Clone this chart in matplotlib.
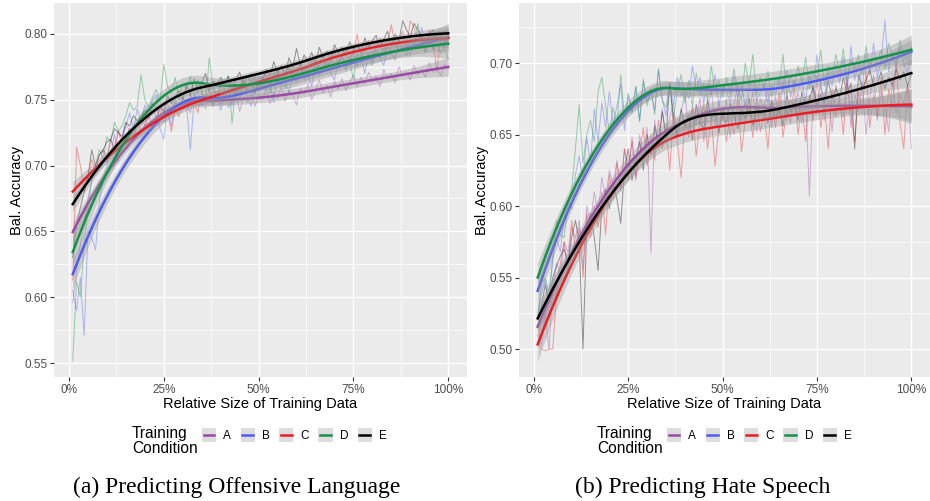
"""Learning curves for five training conditions, ggplot-style, two panels."""

import numpy as np
import matplotlib

matplotlib.use("Agg")
import matplotlib.pyplot as plt
from matplotlib.patches import Rectangle
from matplotlib.lines import Line2D
from matplotlib.legend_handler import HandlerBase
from matplotlib.ticker import FixedLocator, FuncFormatter

# relative size of training data, in percent
train_size = list(range(1, 101))
conditions = ["A", "B", "C", "D", "E"]
colors = ["#9A4AA6", "#4B5BF5", "#EC1C24", "#13924A", "#000000"]

# (a) offensive language, balanced accuracy per condition
off_a = [0.596, 0.620, 0.640, 0.655, 0.675, 0.688, 0.700, 0.698, 0.712, 0.708,
         0.720, 0.714, 0.727, 0.720, 0.732, 0.726, 0.724, 0.732, 0.737, 0.730,
         0.738, 0.744, 0.736, 0.745, 0.741, 0.747, 0.739, 0.750, 0.744, 0.742,
         0.748, 0.740, 0.752, 0.745, 0.749, 0.743, 0.754, 0.746, 0.751, 0.747,
         0.755, 0.744, 0.750, 0.756, 0.741, 0.752, 0.748, 0.757, 0.745, 0.753,
         0.750, 0.758, 0.747, 0.755, 0.751, 0.760, 0.749, 0.757, 0.753, 0.746,
         0.759, 0.754, 0.762, 0.750, 0.757, 0.765, 0.755, 0.761, 0.752, 0.764,
         0.758, 0.766, 0.757, 0.763, 0.769, 0.760, 0.767, 0.762, 0.771, 0.764,
         0.768, 0.760, 0.773, 0.766, 0.770, 0.763, 0.775, 0.768, 0.771, 0.765,
         0.776, 0.769, 0.773, 0.767, 0.778, 0.771, 0.775, 0.768, 0.777, 0.773]
off_b = [0.605, 0.590, 0.615, 0.571, 0.650, 0.645, 0.636, 0.672, 0.690, 0.700,
         0.708, 0.724, 0.703, 0.718, 0.730, 0.740, 0.728, 0.743, 0.734, 0.746,
         0.739, 0.750, 0.754, 0.728, 0.720, 0.744, 0.730, 0.748, 0.742, 0.752,
         0.746, 0.712, 0.750, 0.757, 0.744, 0.755, 0.748, 0.760, 0.753, 0.742,
         0.752, 0.757, 0.745, 0.760, 0.750, 0.762, 0.752, 0.745, 0.765, 0.755,
         0.768, 0.758, 0.762, 0.748, 0.770, 0.760, 0.766, 0.755, 0.772, 0.763,
         0.776, 0.765, 0.770, 0.760, 0.778, 0.768, 0.774, 0.780, 0.770, 0.765,
         0.778, 0.784, 0.772, 0.780, 0.787, 0.775, 0.782, 0.770, 0.786, 0.779,
         0.790, 0.782, 0.776, 0.792, 0.785, 0.780, 0.795, 0.787, 0.791, 0.783,
         0.796, 0.789, 0.805, 0.792, 0.798, 0.788, 0.800, 0.794, 0.790, 0.797]
off_c = [0.613, 0.714, 0.700, 0.680, 0.690, 0.705, 0.695, 0.708, 0.712, 0.702,
         0.720, 0.710, 0.726, 0.716, 0.722, 0.728, 0.720, 0.733, 0.725, 0.731,
         0.738, 0.730, 0.736, 0.743, 0.733, 0.740, 0.726, 0.743, 0.737, 0.748,
         0.743, 0.754, 0.748, 0.740, 0.756, 0.749, 0.758, 0.745, 0.753, 0.760,
         0.751, 0.757, 0.763, 0.752, 0.759, 0.766, 0.755, 0.762, 0.768, 0.758,
         0.764, 0.770, 0.760, 0.767, 0.773, 0.763, 0.769, 0.776, 0.766, 0.772,
         0.778, 0.769, 0.775, 0.781, 0.771, 0.778, 0.784, 0.774, 0.780, 0.787,
         0.777, 0.783, 0.790, 0.780, 0.786, 0.800, 0.782, 0.789, 0.795, 0.784,
         0.791, 0.797, 0.786, 0.793, 0.807, 0.790, 0.796, 0.802, 0.789, 0.810,
         0.805, 0.794, 0.799, 0.786, 0.803, 0.796, 0.771, 0.800, 0.792, 0.797]
off_d = [0.552, 0.612, 0.600, 0.640, 0.668, 0.690, 0.700, 0.712, 0.705, 0.722,
         0.718, 0.733, 0.726, 0.730, 0.738, 0.748, 0.742, 0.745, 0.769, 0.750,
         0.744, 0.752, 0.758, 0.748, 0.777, 0.760, 0.755, 0.767, 0.750, 0.762,
         0.758, 0.768, 0.752, 0.765, 0.756, 0.748, 0.782, 0.760, 0.752, 0.764,
         0.757, 0.768, 0.732, 0.760, 0.754, 0.766, 0.758, 0.770, 0.755, 0.762,
         0.760, 0.767, 0.755, 0.772, 0.762, 0.769, 0.758, 0.774, 0.765, 0.771,
         0.768, 0.775, 0.766, 0.779, 0.770, 0.776, 0.780, 0.772, 0.782, 0.775,
         0.779, 0.785, 0.774, 0.781, 0.765, 0.786, 0.778, 0.790, 0.782, 0.776,
         0.787, 0.782, 0.792, 0.784, 0.789, 0.795, 0.786, 0.791, 0.783, 0.797,
         0.789, 0.808, 0.792, 0.786, 0.796, 0.788, 0.793, 0.785, 0.790, 0.781]
off_e = [0.630, 0.655, 0.668, 0.680, 0.692, 0.712, 0.700, 0.708, 0.712, 0.718,
         0.720, 0.728, 0.725, 0.722, 0.733, 0.730, 0.738, 0.734, 0.737, 0.742,
         0.736, 0.747, 0.743, 0.745, 0.741, 0.753, 0.747, 0.752, 0.757, 0.750,
         0.761, 0.753, 0.766, 0.758, 0.763, 0.770, 0.757, 0.764, 0.761, 0.767,
         0.762, 0.768, 0.756, 0.765, 0.771, 0.760, 0.768, 0.763, 0.755, 0.767,
         0.765, 0.773, 0.768, 0.779, 0.770, 0.776, 0.768, 0.782, 0.774, 0.789,
         0.776, 0.784, 0.779, 0.786, 0.777, 0.790, 0.782, 0.787, 0.780, 0.792,
         0.785, 0.790, 0.783, 0.794, 0.788, 0.792, 0.786, 0.797, 0.790, 0.795,
         0.799, 0.789, 0.796, 0.802, 0.791, 0.800, 0.795, 0.810, 0.803, 0.798,
         0.808, 0.803, 0.796, 0.793, 0.800, 0.803, 0.795, 0.799, 0.794, 0.797]

# (b) hate speech, balanced accuracy per condition
hate_a = [0.510, 0.503, 0.525, 0.500, 0.545, 0.560, 0.552, 0.575, 0.568, 0.585,
          0.578, 0.590, 0.556, 0.600, 0.588, 0.610, 0.595, 0.620, 0.605, 0.625,
          0.615, 0.632, 0.610, 0.640, 0.628, 0.645, 0.618, 0.650, 0.635, 0.655,
          0.567, 0.660, 0.642, 0.668, 0.650, 0.662, 0.672, 0.648, 0.665, 0.680,
          0.652, 0.670, 0.658, 0.676, 0.645, 0.668, 0.682, 0.655, 0.672, 0.660,
          0.675, 0.648, 0.670, 0.685, 0.658, 0.672, 0.665, 0.680, 0.652, 0.675,
          0.668, 0.683, 0.655, 0.677, 0.662, 0.690, 0.660, 0.674, 0.668, 0.680,
          0.658, 0.676, 0.607, 0.682, 0.665, 0.688, 0.660, 0.678, 0.652, 0.685,
          0.670, 0.662, 0.690, 0.655, 0.678, 0.668, 0.684, 0.650, 0.675, 0.692,
          0.660, 0.680, 0.670, 0.652, 0.688, 0.665, 0.678, 0.672, 0.685, 0.640]
hate_b = [0.525, 0.538, 0.548, 0.532, 0.562, 0.578, 0.568, 0.592, 0.604, 0.598,
          0.622, 0.635, 0.618, 0.648, 0.630, 0.668, 0.645, 0.672, 0.655, 0.680,
          0.657, 0.670, 0.685, 0.653, 0.677, 0.665, 0.683, 0.660, 0.687, 0.673,
          0.680, 0.667, 0.695, 0.675, 0.663, 0.685, 0.671, 0.690, 0.677, 0.683,
          0.675, 0.698, 0.680, 0.690, 0.672, 0.686, 0.678, 0.692, 0.670, 0.684,
          0.680, 0.673, 0.691, 0.676, 0.685, 0.670, 0.682, 0.688, 0.674, 0.680,
          0.686, 0.672, 0.684, 0.678, 0.690, 0.680, 0.695, 0.676, 0.688, 0.682,
          0.686, 0.674, 0.692, 0.679, 0.706, 0.682, 0.676, 0.694, 0.684, 0.699,
          0.686, 0.704, 0.680, 0.712, 0.688, 0.700, 0.682, 0.707, 0.692, 0.714,
          0.690, 0.702, 0.730, 0.694, 0.707, 0.697, 0.712, 0.700, 0.692, 0.706]
hate_c = [0.505, 0.500, 0.499, 0.500, 0.500, 0.540, 0.560, 0.575, 0.555, 0.590,
          0.570, 0.585, 0.550, 0.595, 0.578, 0.600, 0.585, 0.610, 0.580, 0.622,
          0.605, 0.630, 0.612, 0.640, 0.618, 0.648, 0.620, 0.635, 0.655, 0.628,
          0.650, 0.632, 0.660, 0.640, 0.655, 0.625, 0.665, 0.645, 0.620, 0.660,
          0.648, 0.668, 0.635, 0.658, 0.672, 0.640, 0.662, 0.628, 0.655, 0.670,
          0.645, 0.665, 0.650, 0.676, 0.638, 0.660, 0.670, 0.648, 0.675, 0.652,
          0.665, 0.640, 0.672, 0.655, 0.680, 0.648, 0.668, 0.658, 0.685, 0.650,
          0.672, 0.645, 0.678, 0.660, 0.690, 0.655, 0.670, 0.640, 0.682, 0.662,
          0.675, 0.650, 0.688, 0.665, 0.645, 0.680, 0.668, 0.695, 0.655, 0.678,
          0.662, 0.690, 0.650, 0.682, 0.668, 0.700, 0.658, 0.640, 0.685, 0.668]
hate_d = [0.522, 0.545, 0.550, 0.540, 0.565, 0.590, 0.580, 0.578, 0.600, 0.612,
          0.640, 0.671, 0.630, 0.650, 0.660, 0.645, 0.680, 0.690, 0.670, 0.652,
          0.669, 0.656, 0.692, 0.662, 0.679, 0.666, 0.684, 0.659, 0.689, 0.670,
          0.682, 0.664, 0.696, 0.674, 0.669, 0.686, 0.662, 0.680, 0.692, 0.672,
          0.688, 0.670, 0.693, 0.678, 0.686, 0.674, 0.698, 0.680, 0.688, 0.676,
          0.690, 0.678, 0.696, 0.682, 0.674, 0.700, 0.684, 0.706, 0.678, 0.690,
          0.682, 0.694, 0.676, 0.690, 0.684, 0.706, 0.678, 0.692, 0.684, 0.698,
          0.686, 0.704, 0.682, 0.694, 0.689, 0.709, 0.684, 0.698, 0.692, 0.706,
          0.694, 0.710, 0.688, 0.702, 0.696, 0.706, 0.692, 0.712, 0.698, 0.704,
          0.702, 0.709, 0.696, 0.714, 0.704, 0.700, 0.716, 0.706, 0.702, 0.712]
hate_e = [0.515, 0.530, 0.545, 0.532, 0.550, 0.558, 0.565, 0.570, 0.560, 0.578,
          0.590, 0.575, 0.500, 0.585, 0.595, 0.578, 0.555, 0.600, 0.612, 0.598,
          0.615, 0.605, 0.588, 0.625, 0.640, 0.618, 0.632, 0.645, 0.625, 0.650,
          0.636, 0.656, 0.642, 0.666, 0.648, 0.686, 0.658, 0.650, 0.668, 0.656,
          0.664, 0.646, 0.671, 0.658, 0.654, 0.674, 0.661, 0.668, 0.651, 0.666,
          0.658, 0.672, 0.664, 0.654, 0.668, 0.661, 0.676, 0.656, 0.670, 0.664,
          0.666, 0.658, 0.674, 0.661, 0.668, 0.656, 0.678, 0.666, 0.672, 0.660,
          0.680, 0.668, 0.674, 0.684, 0.670, 0.678, 0.672, 0.688, 0.675, 0.682,
          0.676, 0.690, 0.678, 0.686, 0.640, 0.692, 0.682, 0.688, 0.695, 0.684,
          0.686, 0.694, 0.682, 0.690, 0.684, 0.696, 0.688, 0.694, 0.684, 0.692]

offensive = [off_a, off_b, off_c, off_d, off_e]
hate = [hate_a, hate_b, hate_c, hate_d, hate_e]

x_ticks = [0, 25, 50, 75, 100]
off_y_ticks = [0.55, 0.60, 0.65, 0.70, 0.75, 0.80]
hate_y_ticks = [0.50, 0.55, 0.60, 0.65, 0.70]

PANEL_BG = "#EBEBEB"
TICK_COL = "#4D4D4D"
SANS = ["Liberation Sans", "DejaVu Sans"]
SERIF = ["Liberation Serif", "DejaVu Serif"]


class KeyHandler(HandlerBase):
    """ggplot-like legend key: grey square with a short coloured line."""

    def create_artists(self, legend, orig_handle, xdescent, ydescent,
                       width, height, fontsize, trans):
        x0 = -xdescent
        yc = -ydescent + height / 2
        side = width
        bg = Rectangle((x0, yc - side / 2), side, side, facecolor="#DDDDDD",
                       edgecolor="none", transform=trans)
        line = Line2D([x0 + 0.12 * side, x0 + 0.88 * side], [yc, yc],
                      color=orig_handle.get_color(), linewidth=1.8, transform=trans)
        return [bg, line]


def loess_matrix(x, x_new, span=0.75):
    """Rows of the local quadratic (tricube) smoother, like R's loess."""
    n = len(x)
    q = int(np.floor(n * span))
    rows = []
    for x0 in x_new:
        d = np.abs(x - x0)
        h = np.sort(d)[q - 1]
        w = np.clip(1 - (d / h) ** 3, 0, None) ** 3
        X = np.column_stack([np.ones(n), x - x0, (x - x0) ** 2])
        XtW = X.T * w
        rows.append(np.linalg.solve(XtW @ X, XtW)[0])
    return np.array(rows)


def smooth_with_band(x, y, grid):
    L_data = loess_matrix(x, x)
    resid = y - L_data @ y
    I_L = np.eye(len(x)) - L_data
    delta1 = np.trace(I_L.T @ I_L)
    sigma = np.sqrt(np.sum(resid ** 2) / delta1)
    L_grid = loess_matrix(x, grid)
    fit = L_grid @ y
    se = sigma * np.sqrt(np.sum(L_grid ** 2, axis=1))
    return fit, fit - 1.98 * se, fit + 1.98 * se


def style_axes(ax, y_ticks, ylim):
    ax.set_facecolor(PANEL_BG)
    for side in ax.spines.values():
        side.set_visible(False)
    ax.set_xlim(-3.95, 104.95)
    ax.set_ylim(*ylim)
    ax.xaxis.set_major_locator(FixedLocator(x_ticks))
    ax.xaxis.set_minor_locator(FixedLocator([12.5, 37.5, 62.5, 87.5]))
    ax.xaxis.set_major_formatter(FuncFormatter(lambda v, p: f"{v:.0f}%"))
    ax.yaxis.set_major_locator(FixedLocator(y_ticks))
    ax.yaxis.set_minor_locator(FixedLocator([t + 0.025 for t in y_ticks[:-1]]
                                            + [y_ticks[-1] + 0.025, y_ticks[0] - 0.025]))
    ax.yaxis.set_major_formatter(FuncFormatter(lambda v, p: f"{v:.2f}"))
    ax.grid(which="major", color="white", linewidth=1.0, zorder=0)
    ax.grid(which="minor", color="white", linewidth=0.5, zorder=0)
    ax.set_axisbelow(True)
    ax.tick_params(which="major", length=2.8, width=0.8, color="#333333",
                   labelcolor=TICK_COL, labelsize=8.5, pad=2)
    ax.tick_params(which="minor", length=0)
    for lab in ax.get_xticklabels() + ax.get_yticklabels():
        lab.set_family(SANS)
    ax.set_xlabel("Relative Size of Training Data", family=SANS, fontsize=10.5, labelpad=1)
    ax.set_ylabel("Bal. Accuracy", family=SANS, fontsize=10.5, labelpad=0)


def draw_panel(ax, series, y_ticks, ylim):
    style_axes(ax, y_ticks, ylim)
    x = np.array(train_size, dtype=float)
    grid = np.linspace(x.min(), x.max(), 80)
    for vals, col in zip(series, colors):
        ax.plot(x, vals, color=col, linewidth=0.7, alpha=0.4, zorder=2)
    # ribbon and line per group, in group order, as geom_smooth does
    for i, (vals, col) in enumerate(zip(series, colors)):
        fit, lo, hi = smooth_with_band(x, np.array(vals), grid)
        ax.fill_between(grid, lo, hi, color="#999999", alpha=0.4, linewidth=0, zorder=3 + 2 * i)
        ax.plot(grid, fit, color=col, linewidth=1.8, zorder=4 + 2 * i)


def add_legend(fig, x_title, x_keys):
    handles = [Line2D([0], [0], color=col) for col in colors]
    fig.text(x_title, 0.12, "Training\nCondition", family=SANS, fontsize=11.2,
             ha="left", va="center", linespacing=1.0)
    fig.legend(handles, conditions, handler_map={Line2D: KeyHandler()},
               loc="upper left", bbox_to_anchor=(x_keys, 0.1437), ncol=5, frameon=False,
               prop={"family": SANS, "size": 8.5}, handlelength=1.2, handleheight=1.2,
               handletextpad=0.6, columnspacing=0.8, borderaxespad=0, borderpad=0)


def main() -> None:
    fig = plt.figure(figsize=(9.3, 5.01), dpi=100)
    ax_left = fig.add_axes([54 / 930, 124 / 501, 413 / 930, 374 / 501])
    ax_right = fig.add_axes([519 / 930, 124 / 501, 411 / 930, 374 / 501])

    draw_panel(ax_left, offensive, off_y_ticks, (0.5394, 0.8235))
    draw_panel(ax_right, hate, hate_y_ticks, (0.4805, 0.742))

    add_legend(fig, 132 / 930, 202 / 930)
    add_legend(fig, 597 / 930, 667 / 930)

    fig.text(237 / 930, 0.028, "(a) Predicting Offensive Language", family=SERIF,
             fontsize=17, ha="center", va="center")
    fig.text(703 / 930, 0.028, "(b) Predicting Hate Speech", family=SERIF,
             fontsize=17, ha="center", va="center")

    fig.savefig("out.png", dpi=100, facecolor="white")
    plt.close(fig)


if __name__ == "__main__":
    main()
